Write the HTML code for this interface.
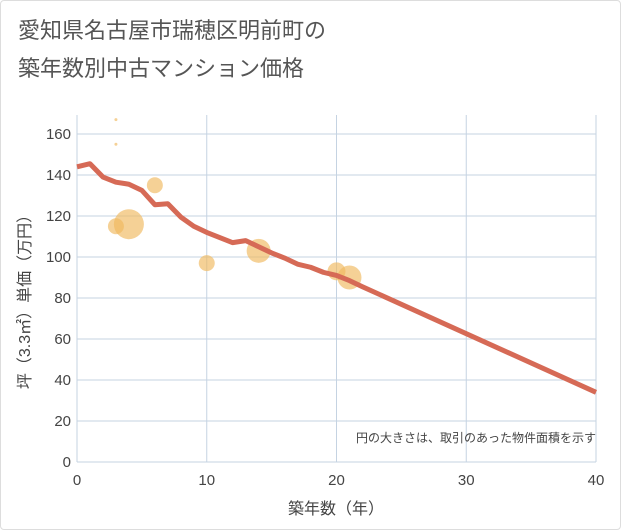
<!DOCTYPE html>
<html><head><meta charset="utf-8"><style>
html,body{margin:0;padding:0;background:#fff;font-family:"Liberation Sans","Noto Sans CJK JP",sans-serif;overflow:hidden;}
#wrap{position:relative;width:621px;height:530px;background:#fff;box-sizing:border-box;border:1px solid #ddd;border-radius:4px;overflow:hidden;}
#chart{position:absolute;left:-1px;top:-1px;}
</style></head><body>
<div id="wrap">
<svg id="chart" width="621" height="530">
<text x="18" y="38" font-size="22" fill="#555" font-family="Noto Sans CJK JP, sans-serif">愛知県名古屋市瑞穂区明前町の</text>
<text x="18" y="76" font-size="22" fill="#555" font-family="Noto Sans CJK JP, sans-serif">築年数別中古マンション価格</text>
<g id="grid"></g><g id="marks"></g><g id="axes"></g>
<text x="596" y="442" font-size="12" fill="#444" text-anchor="end" font-family="Liberation Sans, Noto Sans CJK JP, sans-serif">円の大きさは、取引のあった物件面積を示す</text>
<text x="336" y="514" font-size="16" fill="#444" text-anchor="middle" font-family="Liberation Sans, Noto Sans CJK JP, sans-serif">築年数（年）</text>
<text transform="translate(30,298) rotate(-90)" font-size="16" fill="#444" text-anchor="middle" font-family="Liberation Sans, Noto Sans CJK JP, sans-serif">坪（3.3㎡）単価（万円）</text>
</svg></div>
<script>
const xTicks=[0,10,20,30,40];
const yTicks=[0,20,40,60,80,100,120,140,160];
const lineX=[0,1,2,3,4,5,6,7,8,9,10,11,12,13,14,15,16,17,18,19,20,21,22,40];
const lineY=[144,145.5,139,136.5,135.5,132.5,125.5,126,119.5,115,112,109.5,107,108,105,102,99.5,96.5,95,92.5,91,88.5,85.5,34];
const bubX=[3,3,3,4,6,10,14,20,21];
const bubY=[167,155,115,116,135,97,103,93,90];
const bubR=[1.5,1.5,8,15,8,8,12,9,12];
const X0=77,X1=596,Y0=462,Y1=134,XMAX=40,YMAX=160;
const sx=v=>X0+(X1-X0)*v/XMAX, sy=v=>Y0-(Y0-Y1)*v/YMAX;
const NS="http://www.w3.org/2000/svg";
function mk(t,a,p){const e=document.createElementNS(NS,t);for(const k in a)e.setAttribute(k,a[k]);p.appendChild(e);return e;}
const grid=document.getElementById('grid'),marks=document.getElementById('marks'),axes=document.getElementById('axes');
yTicks.forEach(v=>{const l=mk('line',{x1:X0,x2:X1,y1:sy(v),y2:sy(v),stroke:'#c5d3e2','stroke-width':1},grid);


const t=mk('text',{x:X0-6,y:sy(v)+5,'font-size':15,fill:'#444','text-anchor':'end'},axes);t.textContent=v;

});
xTicks.forEach(v=>{const l=mk('line',{x1:sx(v),x2:sx(v),y1:115,y2:Y0,stroke:'#c5d3e2','stroke-width':1},grid);


const t=mk('text',{x:sx(v),y:Y0+23,'font-size':15,fill:'#444','text-anchor':'middle'},axes);t.textContent=v;

});
bubX.forEach((v,i)=>{const c=mk('circle',{cx:sx(v),cy:sy(bubY[i]),r:bubR[i],fill:'#f0b85e','fill-opacity':0.65},marks);

});
const p=mk('polyline',{points:lineX.map((v,i)=>sx(v)+','+sy(lineY[i])).join(' '),fill:'none',stroke:'#d66a56','stroke-width':5,'stroke-linejoin':'round'},marks);


</script>
</body></html>
